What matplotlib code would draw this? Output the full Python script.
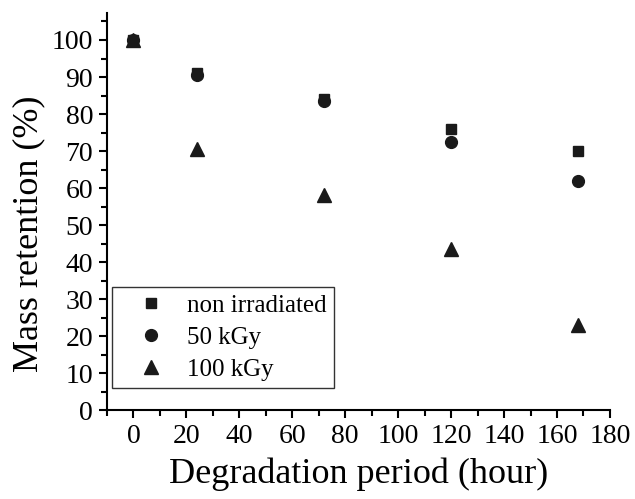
import numpy as np
import matplotlib.pyplot as plt
from matplotlib.ticker import MultipleLocator

plt.rcParams['font.family'] = ['Liberation Serif', 'DejaVu Serif']

# --- DADOS ---
hours = [0, 24, 72, 120, 168]
non_irradiated = [100, 91, 84, 76, 70]
kgy_50 = [100, 90.5, 83.5, 72.5, 62]
kgy_100 = [100, 70.5, 58, 43.5, 23]
labels = ['non irradiated', '50 kGy', '100 kGy']

fig = plt.figure(figsize=(6.35, 4.99), dpi=100)
ax = fig.add_axes([0.1685, 0.178, 0.792, 0.796])

ax.plot(hours, non_irradiated, 's', color='#1a1a1a', markersize=7, label=labels[0])
ax.plot(hours, kgy_50, 'o', color='#1a1a1a', markersize=8.5, label=labels[1])
ax.plot(hours, kgy_100, '^', color='#1a1a1a', markersize=10, label=labels[2])

ax.set_xlim(-10, 180)
ax.set_ylim(0, 107.3)
ax.xaxis.set_major_locator(MultipleLocator(20))
ax.xaxis.set_minor_locator(MultipleLocator(10))
ax.yaxis.set_major_locator(MultipleLocator(10))
ax.yaxis.set_minor_locator(MultipleLocator(5))

for s in ['top', 'right']:
    ax.spines[s].set_visible(False)
for s in ['left', 'bottom']:
    ax.spines[s].set_linewidth(1.5)
ax.tick_params(which='major', direction='out', length=6, width=1.5, labelsize=20, pad=4)
ax.tick_params(which='minor', direction='out', length=4, width=1.5)

ax.set_xlabel('Degradation period (hour)', fontsize=26, labelpad=6)
ax.set_ylabel('Mass retention (%)', fontsize=26)
ax.yaxis.set_label_coords(-0.123, 0.443)

ax.legend(loc='lower left', bbox_to_anchor=(0.01, 0.055), fontsize=18, frameon=True,
          fancybox=False, edgecolor='black', handlelength=2.5, handletextpad=0.2,
          borderpad=0.3, labelspacing=0.38, borderaxespad=0)

plt.savefig('out.png', dpi=100)
